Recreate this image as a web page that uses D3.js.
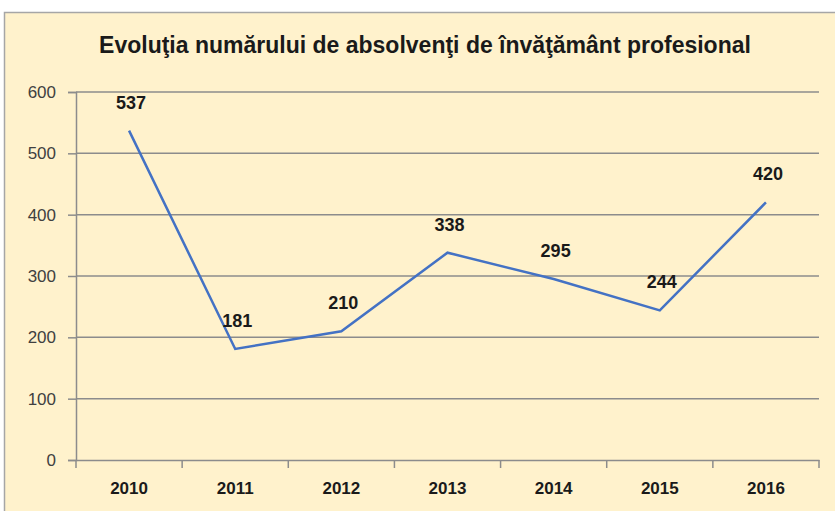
<!DOCTYPE html>
<html>
<head>
<meta charset="utf-8">
<script src="https://cdn.jsdelivr.net/npm/d3@7"></script>
<style>
  body { margin: 0; background: #fff; }
  svg { display: block; }
</style>
</head>
<body>
<svg width="835" height="511"></svg>
<script>
// chart data
var years = ["2010", "2011", "2012", "2013", "2014", "2015", "2016"];
var values = [537, 181, 210, 338, 295, 244, 420];
var yTicks = [0, 100, 200, 300, 400, 500, 600];
var title = "Evoluţia numărului de absolvenţi de învăţământ profesional";

var svg = d3.select("svg"),
    margin = {top: 92, right: 16, bottom: 51, left: 76},
    width = 835 - margin.left - margin.right,
    height = 511 - margin.top - margin.bottom;

var font = "'Liberation Sans Narrow', 'Arial Narrow', 'Liberation Sans', sans-serif";

// background panel
svg.append("rect")
    .attr("x", 4.5).attr("y", 12.5)
    .attr("width", 840).attr("height", 510)
    .attr("fill", "#fff2cc")
    .attr("stroke", "#a6a6a6")
    .attr("stroke-width", 1.5);

svg.append("text")
    .attr("x", 425).attr("y", 53)
    .attr("text-anchor", "middle")
    .style("font-family", font)
    .style("font-weight", "bold")
    .style("font-size", "23px")
    .attr("fill", "#1a1a1a")
    .text(title);

var g = svg.append("g").attr("transform", "translate(" + margin.left + "," + margin.top + ")");

var x = d3.scaleBand().domain(years).range([0, width]),
    y = d3.scaleLinear().domain([0, 600]).range([height, 0]);

// gridlines
g.append("g")
    .selectAll("line")
    .data(yTicks.filter(function(d) { return d > 0; }))
    .enter().append("line")
      .attr("x1", 0).attr("x2", width)
      .attr("y1", function(d) { return y(d); })
      .attr("y2", function(d) { return y(d); })
      .attr("stroke", "#8c8c8c")
      .attr("stroke-width", 1.5);

var yAxis = g.append("g")
    .call(d3.axisLeft(y).tickValues(yTicks).tickSize(8).tickPadding(12).tickFormat(d3.format("d")));
yAxis.select(".domain").attr("stroke", "#8c8c8c").attr("stroke-width", 1.5);
yAxis.selectAll(".tick line").attr("stroke", "#8c8c8c").attr("stroke-width", 1.5);
yAxis.selectAll("text")
    .style("font-family", font)
    .style("font-size", "17px")
    .attr("fill", "#404040");

var xAxis = g.append("g")
    .attr("transform", "translate(0," + height + ")")
    .call(d3.axisBottom(x).tickSize(0).tickPadding(22));
xAxis.select(".domain").attr("stroke", "#8c8c8c").attr("stroke-width", 1.5);
xAxis.selectAll("text")
    .style("font-family", font)
    .style("font-size", "17px")
    .style("font-weight", "bold")
    .attr("fill", "#1a1a1a");

// category boundary ticks
g.append("g")
    .selectAll("line")
    .data(years.concat(["end"]))
    .enter().append("line")
      .attr("x1", function(d, i) { return i < years.length ? x(d) : width; })
      .attr("x2", function(d, i) { return i < years.length ? x(d) : width; })
      .attr("y1", height).attr("y2", height + 8)
      .attr("stroke", "#8c8c8c")
      .attr("stroke-width", 1.5);

var line = d3.line()
    .x(function(d, i) { return x(years[i]) + x.bandwidth() / 2; })
    .y(function(d) { return y(d); });

g.append("path")
    .datum(values)
    .attr("d", line)
    .attr("fill", "none")
    .attr("stroke", "#4472c4")
    .attr("stroke-width", 2.5);

g.selectAll(".lbl")
    .data(values)
    .enter().append("text")
      .attr("class", "lbl")
      .attr("x", function(d, i) { return x(years[i]) + x.bandwidth() / 2 + 2; })
      .attr("y", function(d) { return y(d) - 22; })
      .attr("text-anchor", "middle")
      .style("font-family", font)
      .style("font-size", "18px")
      .style("font-weight", "bold")
      .attr("fill", "#1a1a1a")
      .text(function(d) { return d; });
</script>
</body>
</html>
